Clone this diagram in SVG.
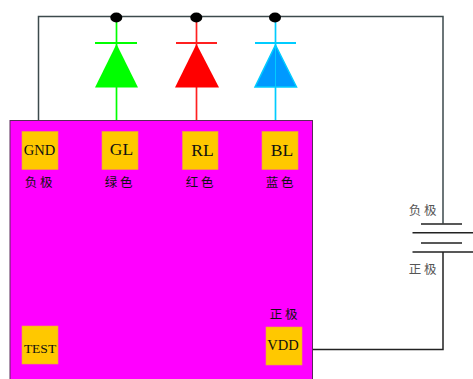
<svg xmlns="http://www.w3.org/2000/svg" width="473" height="379" viewBox="0 0 473 379">
<style>
.w{fill:none;stroke:#3c4a4c;stroke-width:1.500}
.k{fill:none;stroke:#222;stroke-width:1.500}
.pad{fill:#ffc800;stroke:#f0a040;stroke-width:.6}
.t{font-family:"Liberation Serif","Noto Sans CJK SC",serif;fill:#111;text-anchor:middle}
.c{font-family:"Noto Sans CJK SC",sans-serif;font-size:12.500px;letter-spacing:2.800px;text-anchor:middle;fill:#111}
.g{fill:#555}
.dot{fill:#000}
</style>
<rect width="473" height="379" fill="#fff"/>
<g id="connectors">
<path class="w" d="M38.500 120V16.500H443V223.500"/>
<path class="k" d="M443 252V349.500H312"/>
<path fill="none" stroke="#00ff00" stroke-width="1.700" d="M116.500 18V120"/>
<path fill="none" stroke="#ff2020" stroke-width="1.700" d="M196.500 18V120"/>
<path fill="none" stroke="#00ccff" stroke-width="1.700" d="M275.500 18V120"/>
</g>
<g id="chip">
<rect x="10" y="120.500" width="302.500" height="262" fill="#ff00ff" stroke="#5a2a5a" stroke-width="1"/>
</g>
<g id="j1"><ellipse class="dot" cx="116.300" cy="17.500" rx="6" ry="5"/></g>
<g id="j2"><ellipse class="dot" cx="196.300" cy="17.500" rx="6" ry="5"/></g>
<g id="j3"><ellipse class="dot" cx="275" cy="17.500" rx="6" ry="5"/></g>
<g id="led-green">
<path d="M95 43H137" stroke="#00ff00" stroke-width="1.800"/>
<path d="M116.500 44L138 87.500H95Z" fill="#00ff00"/>
</g>
<g id="led-red">
<path d="M176 43H217" stroke="#ff2020" stroke-width="1.800"/>
<path d="M196.500 44L219 87.500H175Z" fill="#ff0000"/>
</g>
<g id="led-blue">
<path d="M255 43H296" stroke="#00ccff" stroke-width="1.800"/>
<path d="M275.500 45L296.500 87H255Z" fill="#0099ff" stroke="#00ccff" stroke-width="1.500"/>
<path d="M275.500 45V87" stroke="#00ccff" stroke-width="1"/>
</g>
<g id="pad-gnd"><rect class="pad" x="22" y="131.500" width="36" height="38"/><text class="t" x="39.500" y="155" font-size="14.500">GND</text></g>
<g id="pad-gl"><rect class="pad" x="102" y="131.500" width="36" height="38"/><text class="t" x="121.500" y="155" font-size="17.500">GL</text></g>
<g id="pad-rl"><rect class="pad" x="182.500" y="131.500" width="35.500" height="38"/><text class="t" x="202.500" y="156" font-size="17.500">RL</text></g>
<g id="pad-bl"><rect class="pad" x="262" y="131.500" width="36" height="38"/><text class="t" x="282" y="156" font-size="17.500">BL</text></g>
<g id="pad-test"><rect class="pad" x="22" y="326" width="36" height="38"/><text class="t" x="40" y="353" font-size="13.500">TEST</text></g>
<g id="pad-vdd"><rect class="pad" x="266" y="327" width="36" height="38"/><text class="t" x="283" y="350" font-size="14.500">VDD</text></g>
<g id="labels">
<text class="c" x="40" y="187">负极</text>
<text class="c" x="120" y="187">绿色</text>
<text class="c" x="201" y="187">红色</text>
<text class="c" x="281" y="186.500">蓝色</text>
<text class="c" x="285" y="319">正极</text>
<text class="c g" x="424" y="215">负极</text>
<text class="c g" x="424" y="274">正极</text>
</g>
<g id="battery">
<path class="k" d="M421 224H462M412.500 232.700H473M421 243H462M412.500 252H473"/>
</g>
</svg>
